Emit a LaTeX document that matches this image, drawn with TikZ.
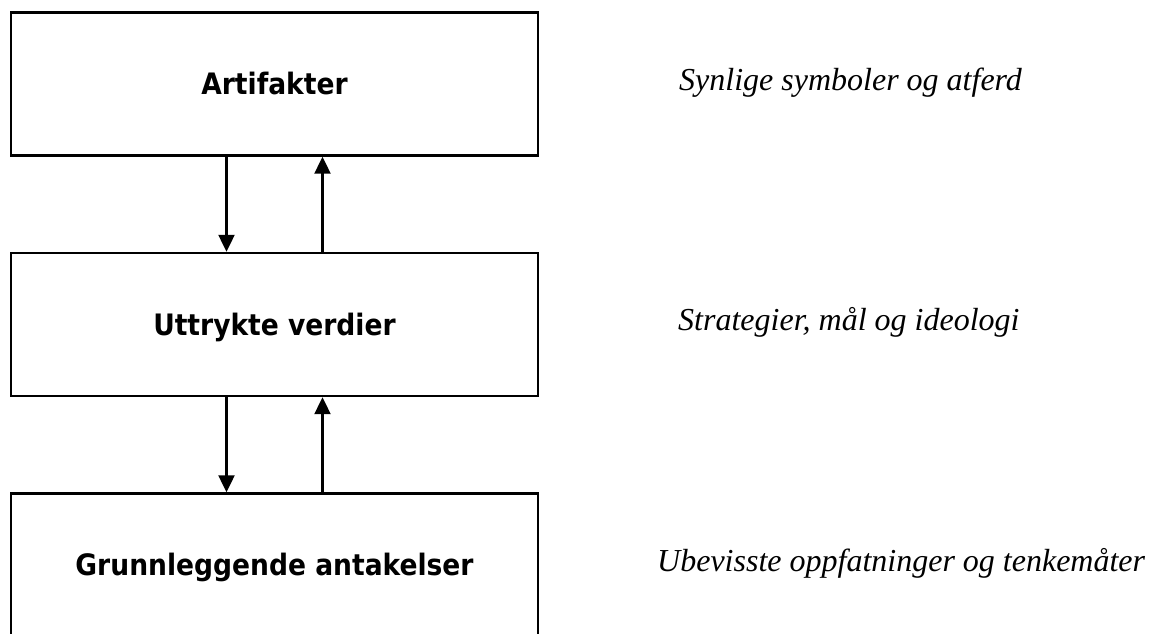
\documentclass[tikz,border=0pt]{standalone}
\usepackage{fontspec}
\setmainfont{Liberation Serif}
\newfontfamily\levelfont{DejaVu Sans Condensed}
\usetikzlibrary{arrows.meta}

\tikzset{
  level/.style={draw, line width=2.4pt, minimum width=527pt, minimum height=143pt,
    inner sep=0pt, text height=21.5pt, text depth=0pt,
    font=\levelfont\bfseries\fontsize{29.5pt}{34pt}\selectfont},
  note/.style={anchor=base west, inner sep=0pt,
    font=\itshape\fontsize{32pt}{38pt}\selectfont},
  link/.style={line width=2.2pt, -{Triangle[width=16pt,length=17pt]}}
}

\begin{document}
\begin{tikzpicture}[x=1pt,y=1pt]
  \useasboundingbox (0,0) rectangle (1150,-633);

  % the three levels of culture
  \node[level] (art) at (274.5,-84)    {Artifakter};
  \node[level] (val) at (274.5,-324.5) {Uttrykte verdier};
  \node[level] (ass) at (274.5,-565)   {Grunnleggende antakelser};

  % descriptions to the right of each level
  \node[note] (artnote) at (679,-90)  {Synlige symboler og atferd};
  \node[note] (valnote) at (678,-330) {Strategier, mål og ideologi};
  \node[note] (assnote) at (657,-571) {Ubevisste oppfatninger og tenkemåter};

  % influence in both directions between neighbouring levels
  \draw[link] ([xshift=-48pt]art.south) -- ([xshift=-48pt]val.north);
  \draw[link] ([xshift=48pt]val.north)  -- ([xshift=48pt]art.south);
  \draw[link] ([xshift=-48pt]val.south) -- ([xshift=-48pt]ass.north);
  \draw[link] ([xshift=48pt]ass.north)  -- ([xshift=48pt]val.south);
\end{tikzpicture}
\end{document}
